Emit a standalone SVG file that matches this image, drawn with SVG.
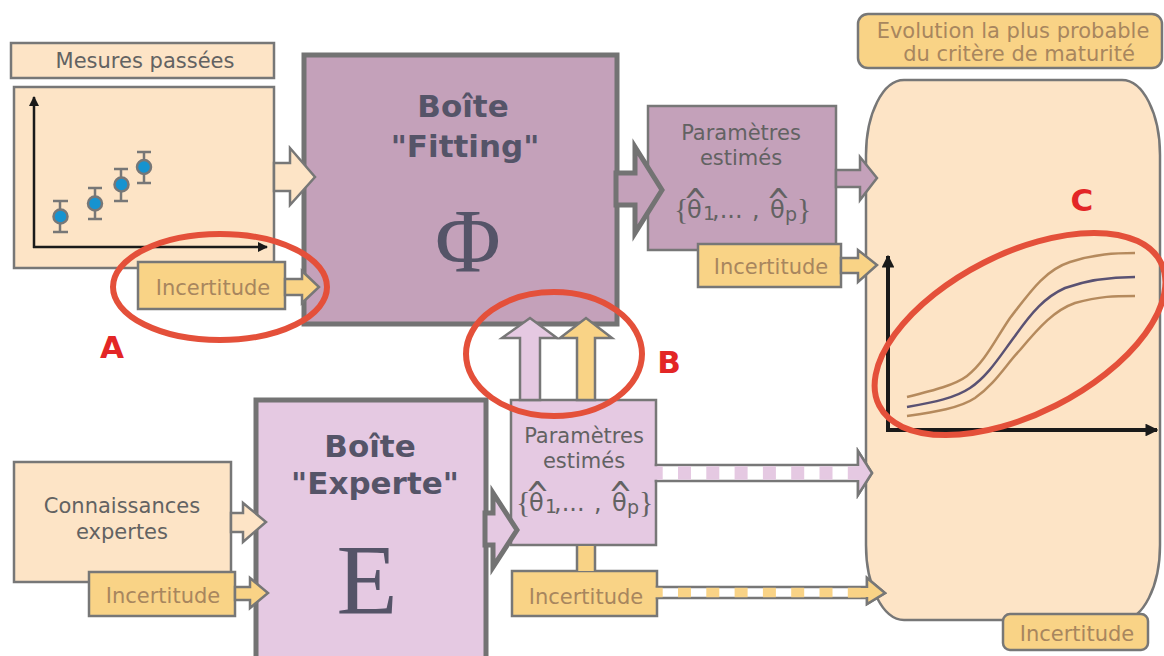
<svg xmlns="http://www.w3.org/2000/svg" width="1164" height="656" viewBox="0 0 1164 656">
<style>
.t{font-family:"DejaVu Sans",Verdana,sans-serif;font-size:21px;fill:#626262;text-anchor:middle}
.inc{font-family:"DejaVu Sans",Verdana,sans-serif;font-size:21px;fill:#a8865e;text-anchor:middle}
.bold{font-family:"DejaVu Sans",Verdana,sans-serif;font-weight:bold;font-size:31px;fill:#555468;text-anchor:middle}
.sym{font-family:"Liberation Serif","Times New Roman",serif;fill:#555468;text-anchor:middle}
.br{font-family:"Liberation Serif","Times New Roman",serif;font-size:30px;fill:#626262}
.m{font-family:"DejaVu Sans",Verdana,sans-serif;font-size:24px;fill:#626262}
.sub{font-family:"DejaVu Sans",Verdana,sans-serif;font-size:19px;fill:#626262}
.hat{font-family:"DejaVu Sans",Verdana,sans-serif;font-size:20px;fill:#626262;text-anchor:middle}
.lbl{font-family:"DejaVu Sans",Verdana,sans-serif;font-weight:bold;font-size:31px;fill:#e32626;text-anchor:middle}
.s{stroke:#777;stroke-width:2.5}
.peach{fill:#fde4c6}
.yel{fill:#f9d386}
.mauve{fill:#c4a1ba}
.lilac{fill:#e5c9e2}
.ax{stroke:#1a1a1a;fill:none}
.eb{stroke:#777;stroke-width:2.5;fill:none}
.pt{fill:#1693d0;stroke:#777;stroke-width:2.5}
.ring{fill:none;stroke:#e4503a;stroke-width:6}
</style>
<defs>
<marker id="ah" viewBox="0 0 10 10" refX="9" refY="5" markerWidth="4" markerHeight="4" orient="auto" markerUnits="strokeWidth">
<path d="M0,0 L10,5 L0,10 z" fill="#1a1a1a"/>
</marker>
<marker id="ah2" viewBox="0 0 10 10" refX="9" refY="5" markerWidth="3.2" markerHeight="3.2" orient="auto" markerUnits="strokeWidth">
<path d="M0,0 L10,5 L0,10 z" fill="#1a1a1a"/>
</marker>
</defs>

<g id="resultat">
<rect x="866" y="80" width="294" height="540" rx="38" ry="75" class="peach s"/>
<line x1="888" y1="432" x2="888" y2="256" class="ax" stroke-width="4" marker-end="url(#ah2)"/>
<line x1="886" y1="430" x2="1157" y2="430" class="ax" stroke-width="4" marker-end="url(#ah2)"/>
<path d="M907,397 C935,390 955,385 967,376 C985,362 995,340 1010,318 C1030,292 1045,270 1070,262 C1095,254 1115,253 1135,253" fill="none" stroke="#b58a5d" stroke-width="2.5"/>
<path d="M907,407 C935,402 955,398 970,388 C988,376 1000,356 1015,336 C1032,312 1045,297 1065,288 C1090,279 1115,277 1135,277" fill="none" stroke="#5a5273" stroke-width="2.5"/>
<path d="M907,416 C935,412 960,408 975,398 C995,384 1005,366 1020,350 C1040,326 1055,310 1075,303 C1100,296 1115,296 1135,296" fill="none" stroke="#b58a5d" stroke-width="2.5"/>
</g>

<g id="evolution">
<rect x="858" y="14" width="304" height="54" rx="10" class="yel s"/>
<text x="1013" y="38" class="inc">Evolution la plus probable</text>
<text x="1019" y="61" class="inc">du critère de maturité</text>
</g>

<g id="incertitude-resultat">
<rect x="1003" y="614" width="145" height="36" rx="7" class="yel s"/>
<text x="1077" y="641" class="inc">Incertitude</text>
</g>

<g id="mesures-titre">
<rect x="11" y="43" width="263" height="35" class="peach s"/>
<text x="145" y="68" class="t">Mesures passées</text>
</g>

<g id="mesures">
<rect x="14" y="87" width="260" height="181" class="peach s"/>
<line x1="34" y1="248" x2="34" y2="97" class="ax" stroke-width="2.5" marker-end="url(#ah)"/>
<line x1="33" y1="247" x2="267" y2="247" class="ax" stroke-width="2.5" marker-end="url(#ah)"/>
<path d="M60,201V232M53,201H68M53,232H68" class="eb"/>
<path d="M95,188V219M88,188H102M88,219H102" class="eb"/>
<path d="M121,169V201M114,169H128M114,201H128" class="eb"/>
<path d="M144,152V183M137,152H151M137,183H151" class="eb"/>
<circle cx="60.5" cy="216.5" r="7" class="pt"/>
<circle cx="95" cy="203.5" r="7" class="pt"/>
<circle cx="121.5" cy="184.5" r="7" class="pt"/>
<circle cx="144" cy="167" r="7" class="pt"/>
</g>

<g id="incertitude-mesures">
<rect x="138" y="262" width="147" height="47" class="yel s"/>
<text x="213" y="295" class="inc">Incertitude</text>
</g>

<g id="fitting">
<rect x="304" y="55" width="313" height="269" class="mauve" stroke="#737373" stroke-width="5"/>
<text x="463" y="117" class="bold">Boîte</text>
<text x="465" y="157" class="bold">"Fitting"</text>
<text x="468" y="272" class="sym" font-size="90">Φ</text>
</g>

<g id="params-fitting">
<rect x="648" y="106" width="188" height="144" class="mauve s"/>
<text x="741" y="140" class="t">Paramètres</text>
<text x="741" y="165" class="t">estimés</text>
<g>
<text x="674" y="219" class="br">{</text>
<text x="687" y="218" class="m">θ</text>
<text transform="translate(695.5,214.5) scale(1.45,1.9)" class="hat">^</text>
<text x="703" y="220" class="sub">1</text>
<text x="712" y="218" class="m">,...</text>
<text x="752" y="218" class="m">,</text>
<text x="770" y="218" class="m">θ</text>
<text transform="translate(778.5,214.5) scale(1.45,1.9)" class="hat">^</text>
<text x="785" y="221" class="sub">p</text>
<text x="797" y="219" class="br">}</text>
</g>
</g>

<g id="incertitude-fitting">
<rect x="698" y="244" width="143" height="43" class="yel s"/>
<text x="771" y="274" class="inc">Incertitude</text>
</g>

<g id="connaissances">
<rect x="14" y="462" width="217" height="120" class="peach s"/>
<text x="122" y="513" class="t">Connaissances</text>
<text x="122" y="539" class="t">expertes</text>
</g>

<g id="incertitude-connaissances">
<rect x="89" y="572" width="146" height="44" class="yel s"/>
<text x="163" y="603" class="inc">Incertitude</text>
</g>

<g id="experte">
<rect x="256" y="400" width="230" height="262" class="lilac" stroke="#737373" stroke-width="5"/>
<text x="370" y="457" class="bold">Boîte</text>
<text x="375" y="494" class="bold">"Experte"</text>
<text x="367" y="613" class="sym" font-size="100">E</text>
</g>

<g id="params-experte">
<rect x="511" y="400" width="145" height="145" class="lilac s"/>
<text x="584" y="443" class="t">Paramètres</text>
<text x="584" y="468" class="t">estimés</text>
<g transform="translate(-158,293)">
<text x="674" y="219" class="br">{</text>
<text x="687" y="218" class="m">θ</text>
<text transform="translate(695.5,214.5) scale(1.45,1.9)" class="hat">^</text>
<text x="703" y="220" class="sub">1</text>
<text x="712" y="218" class="m">,...</text>
<text x="752" y="218" class="m">,</text>
<text x="770" y="218" class="m">θ</text>
<text transform="translate(778.5,214.5) scale(1.45,1.9)" class="hat">^</text>
<text x="785" y="221" class="sub">p</text>
<text x="797" y="219" class="br">}</text>
</g>
</g>

<g id="incertitude-experte">
<rect x="512" y="571" width="145" height="45" class="yel s"/>
<text x="586" y="604" class="inc">Incertitude</text>
</g>

<g id="connecteurs">
<polygon points="274,163 290,163 290,148 315,177 290,205 290,191 274,191" class="peach s"/>
<polygon points="285,279 302,279 302,271 319,287 302,303 302,295 285,295" class="yel s"/>
<polygon points="616,173 635,173 635,147 662,190 635,233 635,205 616,205" class="mauve" stroke="#737373" stroke-width="5"/>
<polygon points="836,170 860,170 860,157 877,178 860,200 860,187 836,187" class="mauve s"/>
<polygon points="841,258 858,258 858,250 877,265 858,282 858,273 841,273" class="yel s"/>
<polygon points="231,513 243,513 243,503 266,522 243,542 243,532 231,532" class="peach s"/>
<polygon points="235,587 250,587 250,578 268,593 250,608 250,600 235,600" class="yel s"/>
<polygon points="485,513 493,513 493,493 517,530 493,567 493,545 485,545" class="lilac" stroke="#737373" stroke-width="5"/>
<polygon points="520,400 520,338 502,338 530,318 557,338 540,338 540,400" class="lilac s"/>
<polygon points="577,400 577,338 560,338 586,318 612,338 595,338 595,400" class="yel s"/>
<rect x="577" y="546" width="18" height="25" class="yel"/>
<path d="M577,546V571M595,546V571" class="s"/>
<polygon points="656,465 858,465 858,451 872,473 858,495 858,481 656,481" fill="#fff" class="s"/>
<line x1="649.7" y1="473" x2="858" y2="473" stroke="#e5c9e2" stroke-width="13.5" stroke-dasharray="13 15.3"/>
<polygon points="857,466 858,451 872,473 858,495 857,480" class="lilac"/>
<path d="M858,466V451L872,473L858,495V480" fill="none" class="s"/>
<polygon points="657,587 867,587 867,578 885,593 867,604 867,598 657,598" fill="#fff" class="s"/>
<line x1="649.7" y1="592.5" x2="867" y2="592.5" stroke="#f9d386" stroke-width="9.5" stroke-dasharray="13 15.3"/>
<rect x="848" y="588" width="20" height="9.5" class="yel"/>
<polygon points="866,588 867,578 885,593 867,604 866,597" class="yel"/>
<path d="M867,588V578L885,593L867,604V597" fill="none" class="s"/>
</g>

<g id="annotations">
<ellipse cx="220" cy="287" rx="107" ry="53" class="ring"/>
<ellipse cx="554" cy="354" rx="88" ry="62" class="ring"/>
<ellipse cx="1020" cy="334" rx="158" ry="80" transform="rotate(-27 1020 334)" class="ring"/>
<text x="112" y="358" class="lbl">A</text>
<text x="669" y="373" class="lbl">B</text>
<text x="1082" y="211" class="lbl">C</text>
</g>
</svg>
